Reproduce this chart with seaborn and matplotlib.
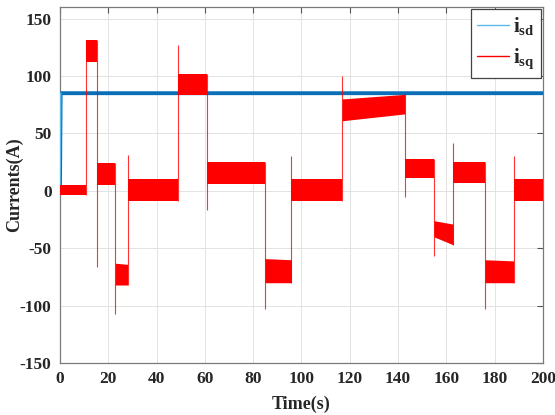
import matplotlib
matplotlib.use("Agg")
import matplotlib.pyplot as plt
from matplotlib.lines import Line2D
import seaborn as sns
import pandas as pd

# segment boundaries of i_sq (s)
seg_start = [0, 10.8, 15.2, 22.9, 28.0, 48.7, 61.0, 84.9, 95.9, 116.9, 142.9, 154.9, 162.9, 176.0, 187.9]
seg_end = seg_start[1:] + [200]
# ripple band of each segment (A), at segment start and end
low_start = [-4, 112, 5, -82, -9, 83, 6, -80, -9, 61, 11, -40, 7, -80, -9]
low_end = [-4, 112, 5, -82, -9, 83, 6, -80, -9, 67, 11, -47, 7, -80, -9]
high_start = [5, 131, 24, -63, 10, 102, 25, -59, 10, 80, 28, -26, 25, -60, 10]
high_end = [5, 131, 24, -64, 10, 102, 25, -60, 10, 84, 28, -29, 25, -61, 10]
# transient spike at each step change
spike_val = [131, -66, -107, 31, 127, -17, -103, 30, 100, -5, -57, 42, -103, 30]

# i_sd reference
isd_t = [0, 0.3, 200]
isd_val = [0, 85, 85]

xticks = [0, 20, 40, 60, 80, 100, 120, 140, 160, 180, 200]
yticks = [-150, -100, -50, 0, 50, 100, 150]

sns.set_style("whitegrid")
plt.rcParams['font.family'] = ['Liberation Serif', 'DejaVu Serif']
plt.rcParams['axes.unicode_minus'] = False
plt.rcParams['mathtext.fontset'] = 'custom'
plt.rcParams['mathtext.rm'] = 'Liberation Serif:bold'
plt.rcParams['mathtext.bf'] = 'Liberation Serif:bold'
plt.rcParams['mathtext.it'] = 'Liberation Serif:bold'

fig = plt.figure(figsize=(5.55, 4.15), dpi=100)
ax = fig.add_axes([0.108, 0.125, 0.870, 0.858])

red = '#ff0000'
for i in range(len(seg_start)):
    ax.fill_between([seg_start[i], seg_end[i]], [low_start[i], low_end[i]],
                    [high_start[i], high_end[i]], color=red, lw=0, zorder=4)

# step transitions with spikes
for i, t in enumerate(seg_start[1:]):
    vals = [high_end[i], low_end[i], high_start[i + 1], low_start[i + 1], spike_val[i]]
    ax.vlines(t, min(vals), max(vals), color=red, lw=0.8, alpha=0.8, zorder=4)

df_isd = pd.DataFrame({'t': isd_t, 'v': isd_val})
sns.lineplot(data=df_isd, x='t', y='v', ax=ax, color='#0a6fb8', lw=2.8, zorder=3)
ax.plot([0, 0.3], [0, 85], color='#5bbbe8', lw=1.2, zorder=3)

ax.set_xlim(0, 200)
ax.set_ylim(-150, 160)
ax.set_xticks(xticks)
ax.set_yticks(yticks)
ax.tick_params(direction='in', top=True, right=True, length=4, width=0.8,
               color='#555555', labelsize=12.5, pad=6)
for lab in ax.get_xticklabels() + ax.get_yticklabels():
    lab.set_fontweight('bold')
ax.grid(True, color='#e3e3e3', lw=0.7)
for s in ax.spines.values():
    s.set_color('#7a7a7a')
    s.set_linewidth(0.9)

ax.set_xlabel('Time(s)', fontsize=13, fontweight='bold')
ax.set_ylabel('Currents(A)', fontsize=13, fontweight='bold')
ax.xaxis.set_label_coords(0.5, -0.092)
ax.yaxis.set_label_coords(-0.076, 0.5)

handles = [Line2D([], [], color='#5bbbe8', lw=1),
           Line2D([], [], color=red, lw=1)]
leg = ax.legend(handles, [r'$\mathbf{i_{sd}}$', r'$\mathbf{i_{sq}}$'],
                loc='upper right', fontsize=15, frameon=True, fancybox=False,
                handlelength=1.5, handletextpad=0.2, borderpad=0.3,
                labelspacing=0.45, borderaxespad=0.1)
leg.get_frame().set_edgecolor('#444444')
leg.get_frame().set_linewidth(0.9)
leg.get_frame().set_alpha(1)
leg.set_zorder(10)

fig.savefig('out.png', dpi=100)
